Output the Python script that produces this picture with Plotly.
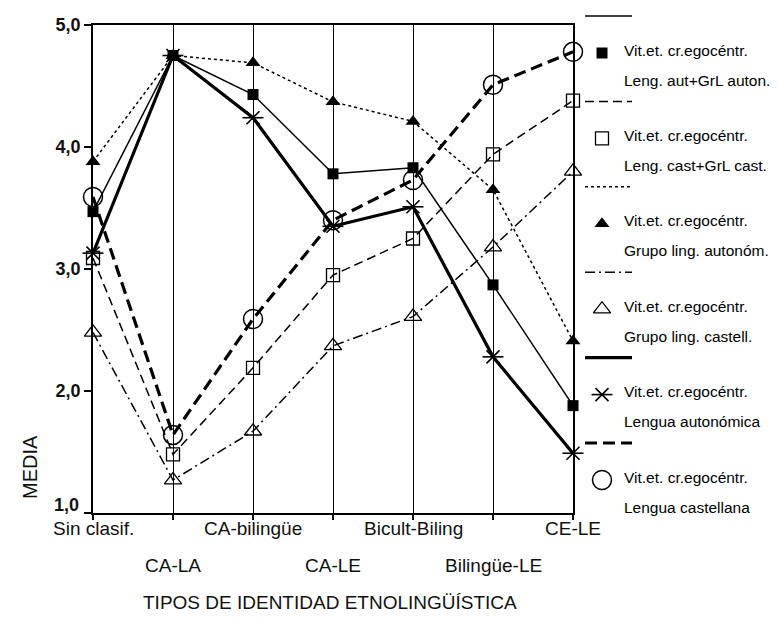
import plotly.graph_objects as go

# ---------------- data ----------------
categories = ["Sin clasif.", "CA-LA", "CA-bilingüe", "CA-LE",
              "Bicult-Biling", "Bilingüe-LE", "CE-LE"]
y_tick_values = [1, 2, 3, 4, 5]
y_tick_labels = ["1,0", "2,0", "3,0", "4,0", "5,0"]

leng_aut_grl_auton = [3.47, 4.75, 4.43, 3.78, 3.83, 2.87, 1.88]
leng_cast_grl_cast = [3.09, 1.48, 2.19, 2.95, 3.25, 3.94, 4.38]
grupo_ling_autonom = [3.88, 4.75, 4.69, 4.37, 4.21, 3.65, 2.41]
grupo_ling_castell = [2.48, 1.27, 1.67, 2.37, 2.61, 3.18, 3.80]
lengua_autonomica = [3.13, 4.75, 4.24, 3.35, 3.51, 2.28, 1.49]
lengua_castellana = [3.59, 1.64, 2.59, 3.40, 3.73, 4.51, 4.78]

legend_first_line = "Vit.et. cr.egocéntr."
legend_second_lines = ["Leng. aut+GrL auton.", "Leng. cast+GrL cast.",
                       "Grupo ling. autonóm.", "Grupo ling. castell.",
                       "Lengua autonómica", "Lengua castellana"]
x_title = "TIPOS DE IDENTIDAD ETNOLINGÜÍSTICA"
y_title = "MEDIA"

# ---------------- styles ----------------
W, H = 783, 631
PL, PR, PT, PB = 93, 573, 25, 513  # plot area pixels
FONT = "Liberation Sans, Arial, sans-serif"

series = [
    (leng_aut_grl_auton, dict(width=1.5, dash="solid"), dict(symbol="square", size=11, color="black")),
    (leng_cast_grl_cast, dict(width=1.5, dash="9px,5px"), dict(symbol="square-open", size=13, color="black", line=dict(width=1.3, color="black"))),
    (grupo_ling_autonom, dict(width=1.5, dash="3px,3px"), dict(symbol="triangle-up", size=13, color="black")),
    (grupo_ling_castell, dict(width=1.5, dash="10px,4px,2px,4px"), dict(symbol="triangle-up-open", size=15, color="black", line=dict(width=1.3, color="black"))),
    (lengua_autonomica, dict(width=3.2, dash="solid"), dict(symbol="x-thin-open", size=13, color="black", line=dict(width=1.6, color="black"))),
    (lengua_castellana, dict(width=3.2, dash="12px,6px"), dict(symbol="circle-open", size=19, color="black", line=dict(width=1.5, color="black"))),
]
star_bar = dict(symbol="line-ew-open", size=15, color="black",
                line=dict(width=1.6, color="black"))

xs = list(range(len(categories)))
fig = go.Figure()

for vals, ln, mk in series:
    fig.add_trace(go.Scatter(x=xs, y=vals, mode="lines+markers",
                             line=dict(color="black", **ln), marker=mk,
                             cliponaxis=False, showlegend=False,
                             xaxis="x", yaxis="y"))
# horizontal bar of the six-armed star
fig.add_trace(go.Scatter(x=xs, y=lengua_autonomica, mode="markers",
                         marker=star_bar, cliponaxis=False, showlegend=False,
                         xaxis="x", yaxis="y"))

# ---------------- custom legend ----------------
LEG_STEP = 85.4
shapes = []
annotations = []
for i, (vals, ln, mk) in enumerate(series):
    y_line = 16 + LEG_STEP * i
    y_mark = 53 + LEG_STEP * i
    shapes.append(dict(type="line", xref="x2", yref="y2", x0=585, x1=632,
                       y0=y_line, y1=y_line,
                       line=dict(color="black", width=ln["width"], dash=ln["dash"])))
    fig.add_trace(go.Scatter(x=[602], y=[y_mark], mode="markers", marker=mk,
                             cliponaxis=False, showlegend=False,
                             xaxis="x2", yaxis="y2"))
    if i == 4:
        fig.add_trace(go.Scatter(x=[602], y=[y_mark], mode="markers",
                                 marker=star_bar, cliponaxis=False, showlegend=False,
                                 xaxis="x2", yaxis="y2"))
    annotations.append(dict(xref="x2", yref="y2", x=622, y=50 + LEG_STEP * i,
                            text=legend_first_line, showarrow=False,
                            xanchor="left", yanchor="middle",
                            font=dict(family=FONT, size=15.5, color="black")))
    annotations.append(dict(xref="x2", yref="y2", x=622, y=80 + LEG_STEP * i,
                            text=legend_second_lines[i], showarrow=False,
                            xanchor="left", yanchor="middle",
                            font=dict(family=FONT, size=15.5, color="black")))

# alternating category labels
for i, c in enumerate(categories):
    annotations.append(dict(xref="x", yref="y2", x=i,
                            y=528 if i % 2 == 0 else 565,
                            text=c, showarrow=False, xanchor="center", yanchor="middle",
                            font=dict(family=FONT, size=19, color="#111")))

# lowest y tick label sits slightly raised in the reference
annotations.append(dict(xref="x2", yref="y2", x=81, y=505,
                        text="<b>" + y_tick_labels[0] + "</b>", showarrow=False,
                        xanchor="right", yanchor="middle",
                        font=dict(family=FONT, size=18, color="#111")))

annotations.append(dict(xref="x2", yref="y2", x=330, y=602, text=x_title,
                        showarrow=False, xanchor="center", yanchor="middle",
                        font=dict(family=FONT, size=19, color="#111")))
annotations.append(dict(xref="x2", yref="y2", x=30, y=467, text=y_title,
                        showarrow=False, xanchor="center", yanchor="middle",
                        textangle=-90,
                        font=dict(family=FONT, size=20, color="#111")))

fig.update_layout(
    width=W, height=H,
    margin=dict(l=0, r=0, t=0, b=0, autoexpand=False),
    paper_bgcolor="white", plot_bgcolor="rgba(0,0,0,0)",
    showlegend=False,
    shapes=shapes, annotations=annotations,
    xaxis=dict(domain=[PL / W, PR / W], range=[0, len(categories) - 1],
               tickvals=xs, showticklabels=False, automargin=False,
               ticks="outside", ticklen=5, tickwidth=1.5, tickcolor="black",
               showline=True, linecolor="black", linewidth=1.5, mirror=True,
               showgrid=True, gridcolor="black", gridwidth=1.3,
               zeroline=False, anchor="y", fixedrange=True),
    yaxis=dict(domain=[(H - PB) / H, (H - PT) / H], range=[1, 5],
               tickvals=y_tick_values,
               ticktext=[""] + ["<b>" + t + "</b>" for t in y_tick_labels[1:]],
               tickfont=dict(family=FONT, size=18, color="#111"),
               automargin=False,
               ticks="outside", ticklen=7, tickwidth=1.5, tickcolor="black",
               showline=True, linecolor="black", linewidth=1.5, mirror=True,
               showgrid=False, zeroline=False, anchor="x", fixedrange=True),
    xaxis2=dict(domain=[0, 1], range=[0, W], visible=False, anchor="y2",
                automargin=False, fixedrange=True),
    yaxis2=dict(domain=[0, 1], range=[H, 0], visible=False, anchor="x2",
                automargin=False, fixedrange=True),
)

fig.write_html("out.html",
               config={"displayModeBar": False},
               post_script="document.body.style.margin='0px';"
                           "document.body.style.overflow='hidden';")
